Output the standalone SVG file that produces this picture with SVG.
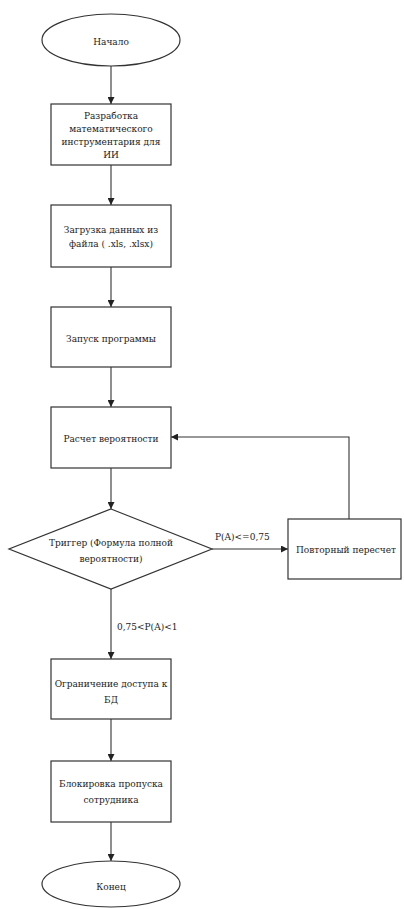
<svg xmlns="http://www.w3.org/2000/svg" width="404" height="909" viewBox="0 0 404 909">
<style>
.s{fill:#fff;stroke:#333;stroke-width:1.2}
.c{fill:none;stroke:#333;stroke-width:1.1}
text{font-family:'DejaVu Serif Condensed','DejaVu Serif','Liberation Serif',serif;font-stretch:condensed;font-size:10px;fill:#222;text-anchor:middle;dominant-baseline:central}
.l{text-anchor:start}
</style>
<defs>
<marker id="a" viewBox="0 0 10 10" refX="10" refY="5" markerWidth="7" markerHeight="7" orient="auto" markerUnits="userSpaceOnUse">
<path d="M0,0 L10,5 L0,10 z" fill="#222"/>
</marker>
</defs>
<rect width="404" height="909" fill="#fff"/>
<g id="connectors">
<line class="c" x1="111" y1="66" x2="111" y2="104" marker-end="url(#a)"/>
<line class="c" x1="111" y1="165" x2="111" y2="205" marker-end="url(#a)"/>
<line class="c" x1="111" y1="267" x2="111" y2="307" marker-end="url(#a)"/>
<line class="c" x1="111" y1="367" x2="111" y2="407" marker-end="url(#a)"/>
<line class="c" x1="111" y1="468" x2="111" y2="509" marker-end="url(#a)"/>
<line class="c" x1="111" y1="589" x2="111" y2="659" marker-end="url(#a)"/>
<line class="c" x1="111" y1="719" x2="111" y2="761" marker-end="url(#a)"/>
<line class="c" x1="111" y1="822" x2="111" y2="861" marker-end="url(#a)"/>
<line class="c" x1="212" y1="549" x2="288" y2="549" marker-end="url(#a)"/>
<polyline class="c" points="349,519 349,437 171,437" marker-end="url(#a)"/>
<text class="l" x="215" y="536">P(A)&lt;=0,75</text>
<text class="l" x="117" y="626">0,75&lt;P(A)&lt;1</text>
</g>
<g id="start">
<ellipse class="s" cx="111" cy="40" rx="69" ry="26"/>
<text x="111" y="41">Начало</text>
</g>
<g id="dev">
<rect class="s" x="51" y="104" width="120" height="61"/>
<text x="111" y="115">Разработка</text>
<text x="111" y="128">математического</text>
<text x="111" y="141">инструментария для</text>
<text x="111" y="154">ИИ</text>
</g>
<g id="load">
<rect class="s" x="51" y="205" width="120" height="62"/>
<text x="111" y="229">Загрузка данных из</text>
<text x="111" y="243">файла ( .xls, .xlsx)</text>
</g>
<g id="run">
<rect class="s" x="51" y="307" width="120" height="60"/>
<text x="111" y="338">Запуск программы</text>
</g>
<g id="calc">
<rect class="s" x="51" y="407" width="120" height="61"/>
<text x="111" y="438">Расчет вероятности</text>
</g>
<g id="trigger">
<polygon class="s" points="111,509 212,549 111,589 9,549"/>
<text x="111" y="542">Триггер (Формула полной</text>
<text x="111" y="558">вероятности)</text>
</g>
<g id="recalc">
<rect class="s" x="288" y="519" width="113" height="60"/>
<text x="346" y="549">Повторный пересчет</text>
</g>
<g id="restrict">
<rect class="s" x="51" y="659" width="120" height="60"/>
<text x="111" y="683">Ограничение доступа к</text>
<text x="111" y="699">БД</text>
</g>
<g id="block">
<rect class="s" x="51" y="761" width="120" height="61"/>
<text x="111" y="783">Блокировка пропуска</text>
<text x="111" y="799">сотрудника</text>
</g>
<g id="end">
<ellipse class="s" cx="111" cy="884" rx="69" ry="23"/>
<text x="111" y="886">Конец</text>
</g>
</svg>
